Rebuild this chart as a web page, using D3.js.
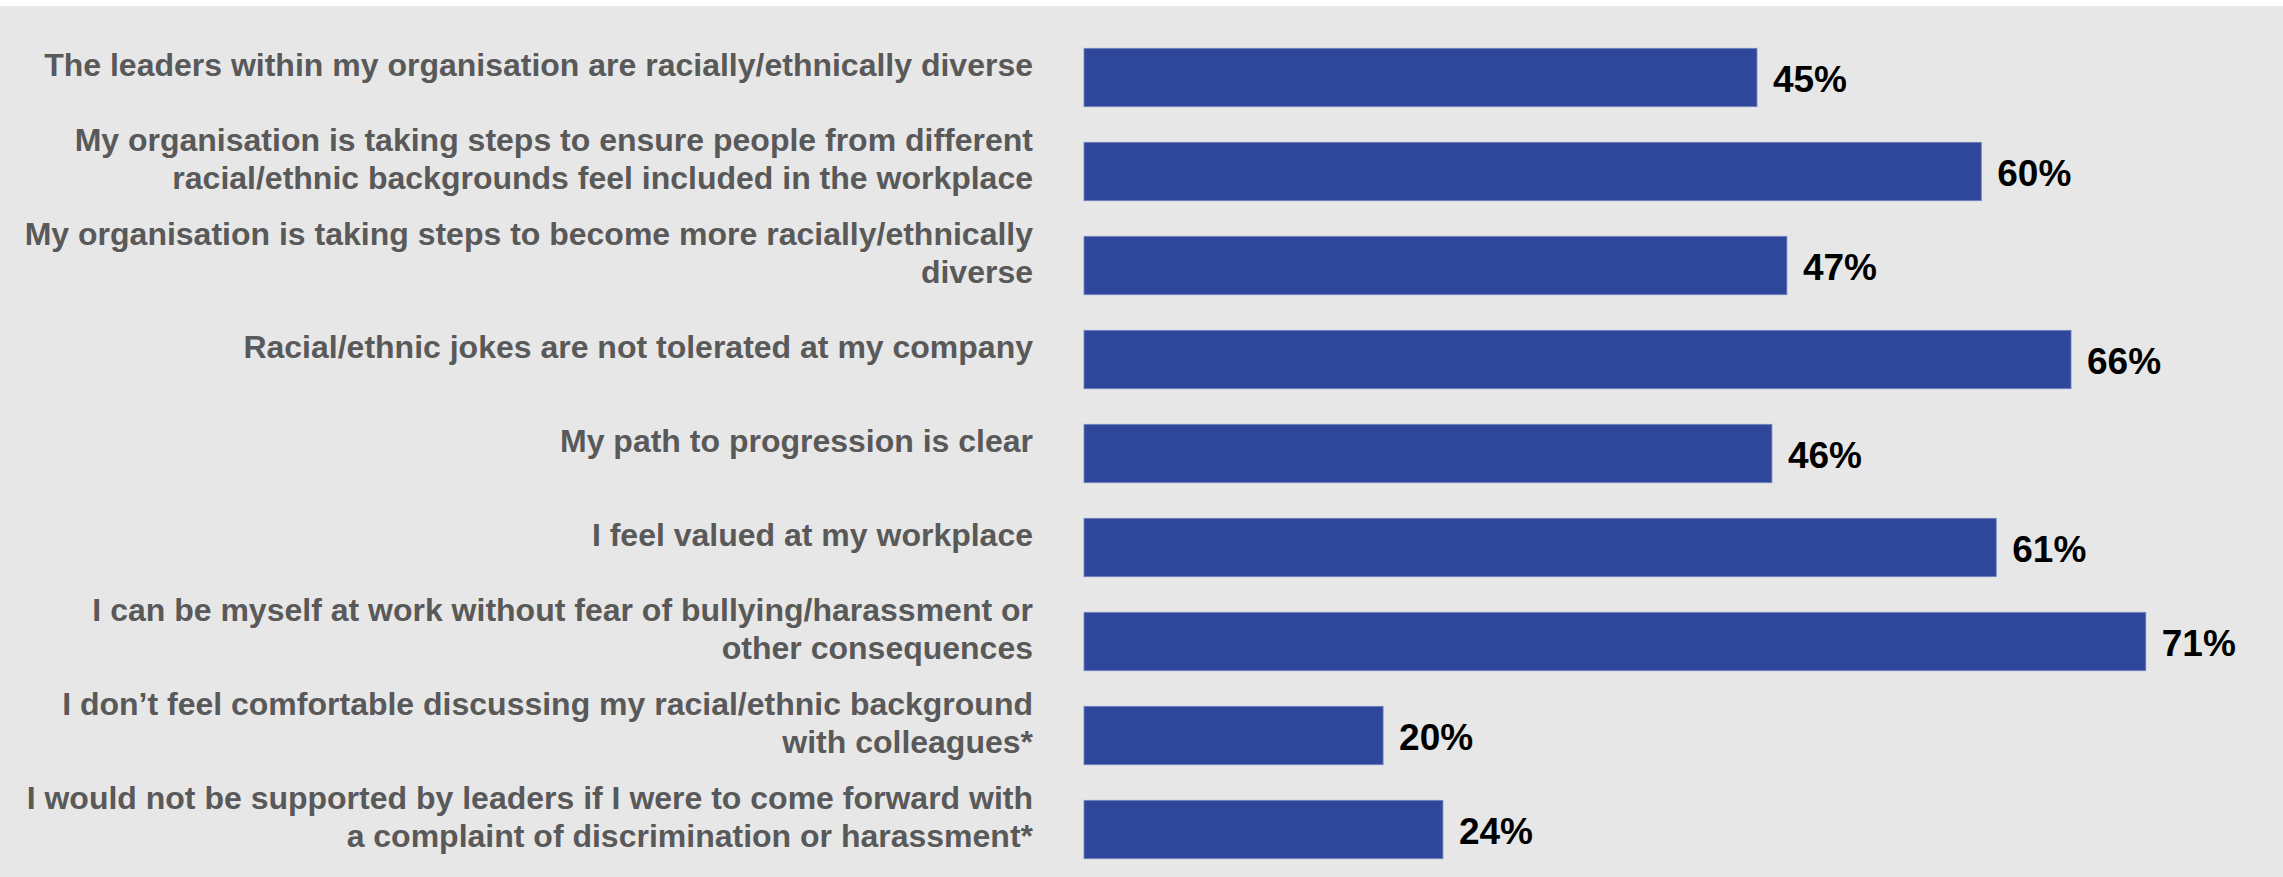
<!DOCTYPE html>
<html>
<head>
<meta charset="utf-8">
<script src="https://cdn.jsdelivr.net/npm/d3@7"></script>
<style>
  html, body { margin: 0; padding: 0; background: #ffffff; }
  svg { display: block; }
</style>
</head>
<body>
<svg id="chart" width="2283" height="877"></svg>
<script>
// Survey statements (each entry is an array of display lines)
const categories = [
  ["The leaders within my organisation are racially/ethnically diverse"],
  ["My organisation is taking steps to ensure people from different", "racial/ethnic backgrounds feel included in the workplace"],
  ["My organisation is taking steps to become more racially/ethnically", "diverse"],
  ["Racial/ethnic jokes are not tolerated at my company"],
  ["My path to progression is clear"],
  ["I feel valued at my workplace"],
  ["I can be myself at work without fear of bullying/harassment or", "other consequences"],
  ["I don\u2019t feel comfortable discussing my racial/ethnic background", "with colleagues*"],
  ["I would not be supported by leaders if I were to come forward with", "a complaint of discrimination or harassment*"]
];

// Share of respondents agreeing (%)
const values = [45, 60, 47, 66, 46, 61, 71, 20, 24];

const W = 2283, H = 877;
const svg = d3.select("#chart");

// Panel background with a thin white strip at the top
svg.append("rect").attr("x", 0).attr("y", 0).attr("width", W).attr("height", H).attr("fill", "#ffffff");
svg.append("rect").attr("x", 0).attr("y", 6).attr("width", W).attr("height", H - 6).attr("fill", "#e7e7e7");

const x = d3.scaleLinear().domain([0, 100]).range([1084, 1084 + 1495.5]);

const y = d3.scaleBand()
  .domain(d3.range(categories.length))
  .range([30.5, 876.5])
  .paddingInner(0.379)
  .paddingOuter(0.1895);

const rows = svg.append("g").selectAll("g")
  .data(values.map((v, i) => ({ v, i, lines: categories[i] })))
  .join("g");

// Bars
rows.append("rect")
  .attr("x", x(0))
  .attr("y", d => y(d.i))
  .attr("width", d => x(d.v) - x(0))
  .attr("height", y.bandwidth())
  .attr("fill", "#2f479a")
  .attr("stroke", "#7484c2")
  .attr("stroke-width", 0.8);

// Value labels
rows.append("text")
  .attr("x", d => x(d.v) + 16)
  .attr("y", d => y(d.i) + y.bandwidth() / 2 + 14)
  .attr("font-family", "'Liberation Sans', Arial, sans-serif")
  .attr("font-weight", "bold")
  .attr("font-size", 37)
  .attr("fill", "#000000")
  .text(d => d.v + "%");

// Category labels, right-aligned against the bars
const lineGap = 38;
rows.append("text")
  .attr("text-anchor", "end")
  .attr("font-family", "'Liberation Sans', Arial, sans-serif")
  .attr("font-weight", "bold")
  .attr("font-size", 32)
  .attr("fill", "#595959")
  .each(function (d) {
    const cy = y(d.i) + y.bandwidth() / 2;
    const n = d.lines.length;
    d3.select(this).selectAll("tspan")
      .data(d.lines)
      .join("tspan")
      .attr("x", x(0) - 51)
      .attr("y", (t, k) => cy - 2 + (k - (n - 1) / 2) * lineGap)
      .text(t => t);
  });
</script>
</body>
</html>
